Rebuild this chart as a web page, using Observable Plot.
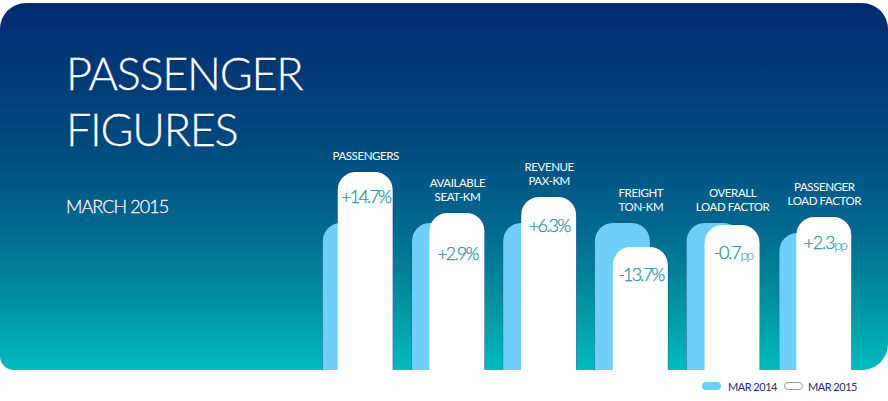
<!DOCTYPE html>
<html>
<head>
<meta charset="utf-8">
<script src="https://cdn.jsdelivr.net/npm/d3@7"></script>
<script src="https://cdn.jsdelivr.net/npm/@observablehq/plot@0.6"></script>
<style>
  html, body { margin: 0; padding: 0; background: #fff; }
  #page { position: relative; width: 888px; height: 401px; overflow: hidden; font-family: Lato, sans-serif; }
  #panel { position: absolute; left: 0; top: 3px; width: 888px; height: 367px;
    border-radius: 26px 26px 26px 14px;
    background: linear-gradient(180deg, #032a6f 0%, #014a7e 38%, #006a8f 62%, #00929f 82%, #00bcc0 100%); }
  #chart { position: absolute; left: 0; top: 0; }
  #chart svg { background: transparent; display: block; }
  .head { position: absolute; color: #fff; font-weight: 300; white-space: nowrap;
    text-shadow: 0 0 1.5px #1a1a80; }
  #t1 { left: 66px; top: 45px; font-size: 45px; line-height: 56px; letter-spacing: -1.3px; -webkit-text-stroke: 0.3px #fff; }
  #t2 { left: 66px; top: 195px; font-size: 18px; line-height: 22px; letter-spacing: -0.9px; -webkit-text-stroke: 0.3px #fff; }
  .lg { position: absolute; top: 380px; font-size: 11px; line-height: 14px; letter-spacing: -0.5px; color: #1d2a70; white-space: nowrap; }
  .sw { position: absolute; width: 19px; height: 8px; border-radius: 5px; box-sizing: border-box; top: 382px; }
  .val text, text.val { letter-spacing: -1.8px; }
  .val2 text, text.val2 { letter-spacing: -1.2px; }
  .lab text, text.lab { letter-spacing: -0.4px; }
</style>
</head>
<body>
<div id="page">
  <div id="panel"></div>
  <div id="chart"></div>
  <div class="head" id="t1">PASSENGER<br>FIGURES</div>
  <div class="head" id="t2">MARCH 2015</div>
  <div class="sw" style="left:702px;background:#6fcff8"></div>
  <div class="lg" style="left:728px">MAR 2014</div>
  <div class="sw" style="left:784px;background:#fff;border:1px solid #9a9a9a"></div>
  <div class="lg" style="left:808px">MAR 2015</div>
</div>
<script>
const categories = ["PASSENGERS", "AVAILABLE\nSEAT-KM", "REVENUE\nPAX-KM", "FREIGHT\nTON-KM", "OVERALL\nLOAD FACTOR", "PASSENGER\nLOAD FACTOR"];
const mar2014 = [147, 147, 147, 147, 147, 137];
const mar2015 = [198, 157, 173, 123, 145, 153];
const changes = ["+14.7", "+2.9", "+6.3", "-13.7", "-0.7", "+2.3"];
const units = ["%", "%", "%", "%", "pp", "pp"];

const rows = categories.map((c, i) => ({
  c, a: mar2014[i], b: mar2015[i], top: Math.max(mar2014[i], mar2015[i]), ch: changes[i], u: units[i]
}));

const barBase = -40;
const radius = 18;
const navy = "#17307a";
const teal = "#1a8fa5";
const sky = "#6fcff8";
const drop = [25, 41, 29, 28, 28, 26];
const shifts = [-15, -17.5, -18, -18, -18, -17];

const valueMarks = rows.flatMap((r, i) => r.u === "%"
  ? [Plot.text([r], {x: "c", y: "b", text: d => d.ch + d.u, dy: drop[i], fontSize: 18, fontWeight: 300, fill: teal, stroke: teal, strokeWidth: 0.25, className: "val"})]
  : [Plot.text([r], {x: "c", y: "b", text: "ch", dy: drop[i], dx: i === 4 ? 8 : 10, textAnchor: "end", fontSize: 18, fontWeight: 300, fill: teal, stroke: teal, strokeWidth: 0.25, className: "val2"}),
     Plot.text([r], {x: "c", y: "b", text: "u", dy: drop[i] + 2, dx: i === 4 ? 8 : 10, textAnchor: "start", fontSize: 14, fontWeight: 300, fill: teal, className: "val"})]);

const earlierBars = rows.flatMap((r, i) => [
  Plot.barY([r], {x: "c", y1: barBase, y2: "a", rx: radius, dx: shifts[i], fill: navy, stroke: navy, strokeWidth: 1, strokeOpacity: 0.35, clip: true}),
  Plot.barY([r], {x: "c", y1: barBase, y2: "a", rx: radius, dx: shifts[i], fill: sky, clip: true})
]);

const plot = Plot.plot({
  width: 888,
  height: 370,
  marginTop: 3,
  marginBottom: 0,
  marginLeft: 301,
  marginRight: 0,
  x: {domain: categories, padding: 0.4, round: false, axis: null, label: null},
  y: {domain: [0, 367], axis: null, label: null},
  style: {background: "transparent", fontFamily: "Lato, sans-serif"},
  marks: [
    Plot.barY(rows, {x: "c", y1: barBase, y2: "b", rx: radius, fill: navy, stroke: navy, strokeWidth: 1, strokeOpacity: 0.5, clip: true}),
    ...earlierBars,
    Plot.barY(rows, {x: "c", y1: barBase, y2: "b", rx: radius, fill: "#fff", clip: true}),
    Plot.text(rows, {x: "c", y: "top", text: "c", dy: -13, lineAnchor: "bottom", fontSize: 11.5, lineHeight: 1.2, fill: "#fff", className: "lab"}),
    ...valueMarks
  ]
});
document.getElementById("chart").appendChild(plot);
</script>
</body>
</html>
